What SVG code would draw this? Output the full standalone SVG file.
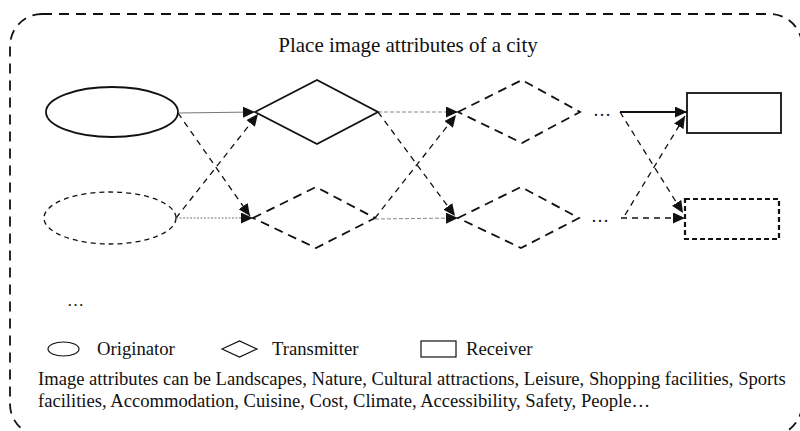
<svg xmlns="http://www.w3.org/2000/svg" width="800" height="431" viewBox="0 0 800 431">
<style>
text{font-family:"Liberation Serif","Times New Roman",serif;fill:#111}
.solid{fill:none;stroke:#111;stroke-width:1.8}
.dash{fill:none;stroke:#111;stroke-width:1.8;stroke-dasharray:9 6}
.edash{fill:none;stroke:#111;stroke-width:1.3;stroke-dasharray:5 4}
.c{fill:none;stroke:#111;stroke-width:1.3;stroke-dasharray:6 5}
.thin{fill:none;stroke:#777;stroke-width:1}
.dot{fill:none;stroke:#777;stroke-width:1;stroke-dasharray:2 1.5}
.ldot{fill:none;stroke:#888;stroke-width:1;stroke-dasharray:4 2}
</style>
<defs>
<marker id="ah" viewBox="0 0 12 11" refX="12" refY="5.5" markerWidth="12" markerHeight="11" markerUnits="userSpaceOnUse" orient="auto">
<path d="M0,0 L12,5.5 L0,11 z" fill="#111"/>
</marker>
</defs>
<rect x="10" y="14" width="792" height="422" rx="32" fill="none" stroke="#111" stroke-width="1.8" stroke-dasharray="10 7"/>
<text x="408" y="52" font-size="21" text-anchor="middle">Place image attributes of a city</text>
<g id="originator1"><ellipse cx="112" cy="112" rx="66" ry="25" class="solid" stroke-width="1.5"/></g>
<g id="originator2"><ellipse cx="110" cy="218" rx="66" ry="26" class="edash"/></g>
<g id="transmitter1"><polygon points="255,112 317,80 378,112 317,144" class="solid"/></g>
<g id="transmitter2"><polygon points="253,218 316,187 375,218 316,248" class="dash"/></g>
<g id="transmitter3"><polygon points="458,112 522,80 580,112 522,143" class="dash"/></g>
<g id="transmitter4"><polygon points="458,218 521,187 579,218 521,248" class="dash"/></g>
<g id="dots1"><text x="602" y="116" font-size="18" text-anchor="middle">…</text></g>
<g id="dots2"><text x="600" y="222" font-size="18" text-anchor="middle">…</text></g>
<g id="receiver1"><rect x="687" y="93" width="94" height="40" class="solid" stroke-width="2.2"/></g>
<g id="receiver2"><rect x="685" y="199" width="94" height="40" fill="none" stroke="#111" stroke-width="2.2" stroke-dasharray="5 3"/></g>
<g id="connectors">
<line x1="178" y1="113" x2="255" y2="112" class="thin" marker-end="url(#ah)"/>
<line x1="178" y1="113" x2="250" y2="216" class="c" marker-end="url(#ah)"/>
<line x1="176" y1="218" x2="258" y2="114" class="c" marker-end="url(#ah)"/>
<line x1="176" y1="218" x2="253" y2="218" class="dot" marker-end="url(#ah)"/>
<line x1="378" y1="112" x2="458" y2="112" class="ldot" marker-end="url(#ah)"/>
<line x1="378" y1="112" x2="455" y2="216" class="c" marker-end="url(#ah)"/>
<line x1="375" y1="218" x2="456" y2="115" class="c" marker-end="url(#ah)"/>
<line x1="375" y1="219" x2="458" y2="218" class="ldot" marker-end="url(#ah)"/>
<line x1="620" y1="112" x2="687" y2="112" class="solid" stroke-width="1.3" marker-end="url(#ah)"/>
<line x1="620" y1="112" x2="683" y2="213" class="c" marker-end="url(#ah)"/>
<line x1="625" y1="215" x2="685" y2="116" class="c" marker-end="url(#ah)"/>
<line x1="621" y1="218" x2="685" y2="218" class="c" marker-end="url(#ah)"/>
</g>
<text x="67" y="306" font-size="17">…</text>
<g id="legend">
<ellipse cx="63.5" cy="349" rx="15.5" ry="7" fill="none" stroke="#111" stroke-width="1.2"/>
<text x="97" y="354.5" font-size="18.7">Originator</text>
<polygon points="222,349 239.5,341 257,349 239.5,357" fill="none" stroke="#111" stroke-width="1.2"/>
<text x="272" y="354.5" font-size="18.7">Transmitter</text>
<rect x="421" y="341" width="35" height="16" fill="none" stroke="#111" stroke-width="1.2"/>
<text x="466" y="354.5" font-size="18.7">Receiver</text>
</g>
<text x="38" y="385" font-size="18.6">Image attributes can be Landscapes, Nature, Cultural attractions, Leisure, Shopping facilities, Sports</text>
<text x="38" y="407" font-size="18.6">facilities, Accommodation, Cuisine, Cost, Climate, Accessibility, Safety, People…</text>
</svg>
